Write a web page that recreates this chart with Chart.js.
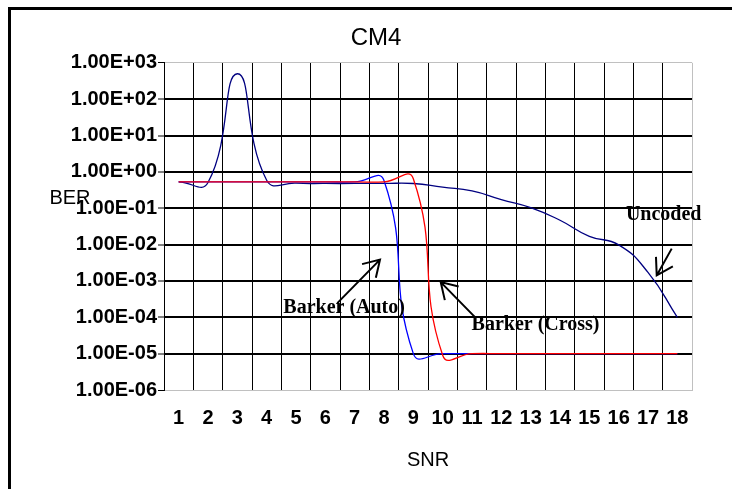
<!DOCTYPE html>
<html>
<head>
<meta charset="utf-8">
<script src="https://cdn.jsdelivr.net/npm/chart.js@4.4.1/dist/chart.umd.min.js"></script>
<style>
html,body{margin:0;padding:0;background:#fff;}
canvas{display:block;}
</style>
</head>
<body>
<canvas id="c" width="732" height="489"></canvas>
<script>
// ---- data ----
const categories = ['1','2','3','4','5','6','7','8','9','10','11','12','13','14','15','16','17','18'];
const uncoded     = [0.53, 0.51, 500, 0.59, 0.49, 0.48, 0.48, 0.48, 0.478, 0.378, 0.30, 0.173, 0.104, 0.0466, 0.0169, 0.0098, 0.00172, 0.0001];
const barkerAuto  = [0.53, 0.53, 0.53, 0.53, 0.53, 0.53, 0.53, 0.58, 1e-5, 1e-5, 1e-5, 1e-5, 1e-5, 1e-5, 1e-5, 1e-5, 1e-5, 1e-5];
const barkerCross = [0.53, 0.53, 0.53, 0.53, 0.53, 0.53, 0.53, 0.53, 0.65, 9e-6, 1e-5, 1e-5, 1e-5, 1e-5, 1e-5, 1e-5, 1e-5, 1e-5];
const yTickValues = [1e3, 1e2, 1e1, 1e0, 1e-1, 1e-2, 1e-3, 1e-4, 1e-5, 1e-6];
const yTickLabels = ['1.00E+03','1.00E+02','1.00E+01','1.00E+00','1.00E-01','1.00E-02','1.00E-03','1.00E-04','1.00E-05','1.00E-06'];
const titleText = 'CM4';
const xTitle = 'SNR';
const yTitle = 'BER';
// annotation anchors in data space: [category index, value]
const annotations = [
  {text: 'Barker (Auto)',  at: [5.64, 1.84e-4],  tail: [5.408, 2.46e-4], tip: [6.864, 3.85e-3]},
  {text: 'Barker (Cross)', at: [12.165, 6.37e-5], tail: [10.102, 1.01e-4], tip: [8.933, 9.3e-4]},
  {text: 'Uncoded',        at: [16.535, 0.0669],  tail: [16.808, 7.74e-3], tip: [16.297, 1.42e-3]}
];

const SANS = '"Liberation Sans", Arial, sans-serif';
const SERIF = '"Liberation Serif", "Times New Roman", serif';

function drawArrow(ctx, x1, y1, x2, y2) {
  const a = Math.atan2(y1 - y2, x1 - x2);
  const L = 18.5, s = 0.55;
  ctx.beginPath();
  ctx.moveTo(x1, y1);
  ctx.lineTo(x2, y2);
  ctx.moveTo(x2 + L * Math.cos(a + s), y2 + L * Math.sin(a + s));
  ctx.lineTo(x2, y2);
  ctx.lineTo(x2 + L * Math.cos(a - s), y2 + L * Math.sin(a - s));
  ctx.stroke();
}

const decor = {
  id: 'decor',
  afterDraw(chart) {
    const {ctx, scales} = chart;
    const xs = scales.x, ys = scales.y;
    ctx.save();
    // outer frame (top + left)
    ctx.fillStyle = '#000';
    ctx.fillRect(8, 7, chart.width - 8, 3);
    ctx.fillRect(8, 7, 3, chart.height - 7);
    // y title (horizontal)
    ctx.font = '20px ' + SANS;
    ctx.textAlign = 'center';
    ctx.textBaseline = 'middle';
    ctx.fillStyle = '#000';
    ctx.fillText(yTitle, 70, chart.chartArea.top + 136);
    // annotations
    ctx.font = 'bold 20px ' + SERIF;
    ctx.strokeStyle = '#000';
    ctx.lineWidth = 2;
    annotations.forEach(a => {
      ctx.fillText(a.text, xs.getPixelForValue(a.at[0]), ys.getPixelForValue(a.at[1]));
      drawArrow(ctx,
        xs.getPixelForValue(a.tail[0]), ys.getPixelForValue(a.tail[1]),
        xs.getPixelForValue(a.tip[0]), ys.getPixelForValue(a.tip[1]));
    });
    ctx.restore();
  }
};

const lineCommon = {borderWidth: 1.3, pointRadius: 0, pointHoverRadius: 0, tension: 0.5, fill: false};

new Chart(document.getElementById('c'), {
  type: 'line',
  data: {
    labels: categories,
    datasets: [
      Object.assign({label: 'Barker (Cross)', data: barkerCross, borderColor: '#ff0000', order: 0}, lineCommon),
      Object.assign({label: 'Barker (Auto)',  data: barkerAuto,  borderColor: '#0000ff', order: 1}, lineCommon),
      Object.assign({label: 'Uncoded',        data: uncoded,     borderColor: '#000080', order: 2}, lineCommon)
    ]
  },
  options: {
    responsive: false,
    animation: false,
    devicePixelRatio: 1,
    layout: {padding: {left: 20, right: 0, top: 0, bottom: 0}},
    plugins: {
      legend: {display: false},
      tooltip: {enabled: false},
      title: {
        display: true, text: titleText, color: '#000',
        font: {family: SANS, size: 24, weight: 'normal', lineHeight: 1.2},
        padding: {top: 24, bottom: 10}
      }
    },
    scales: {
      x: {
        type: 'category',
        offset: true,
        grid: {
          offset: true, drawTicks: false,
          color: ctx => ctx.type === 'tick' ? '#000' : '#c0c0c0',
          lineWidth: 1
        },
        border: {display: true, color: '#c0c0c0', width: 1},
        ticks: {
          color: '#000', padding: 16, autoSkip: false, maxRotation: 0,
          font: {family: SANS, size: 20, weight: 'bold'}
        },
        title: {
          display: true, text: xTitle, color: '#000',
          font: {family: SANS, size: 20, weight: 'normal'},
          padding: {top: 0, bottom: 17}
        },
        afterFit: s => { s.height = 99; }
      },
      y: {
        type: 'logarithmic',
        min: 1e-6, max: 1e3,
        afterBuildTicks: s => { s.ticks = yTickValues.map(v => ({value: v})); },
        grid: {
          color: ctx => (ctx.tick && (ctx.tick.value === 1e3 || ctx.tick.value === 1e-6)) ? '#c0c0c0' : '#000',
          lineWidth: ctx => (ctx.tick && (ctx.tick.value === 1e3 || ctx.tick.value === 1e-6)) ? 1 : 2,
          drawTicks: true, tickLength: 6, tickColor: '#000', tickWidth: 1
        },
        border: {display: true, color: '#000', width: 1},
        ticks: {
          color: '#000', padding: 1, autoSkip: false,
          font: {family: SANS, size: 20, weight: 'bold'},
          callback: (v, i) => yTickLabels[i]
        },
        afterFit: s => { s.width = 144; }
      },
      yr: {
        position: 'right', display: true,
        grid: {display: false}, border: {display: false},
        ticks: {display: false},
        afterFit: s => { s.width = 40; }
      }
    }
  },
  plugins: [decor]
});
</script>
</body>
</html>
